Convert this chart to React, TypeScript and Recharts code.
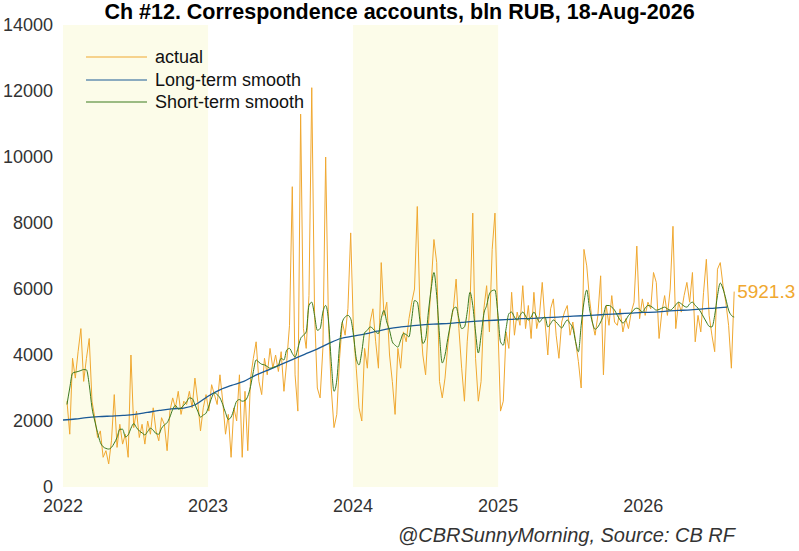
import { LineChart, Line, XAxis, YAxis, ReferenceArea, ReferenceDot, Legend } from "recharts";

const W = 799;
const H = 551;
const FONT = "'Liberation Sans', Arial, sans-serif";
const ORANGE = "#f0a830";
const BLUE = "#1b5a96";
const GREEN = "#3b7a1e";
const BAND = "#fcfce9";

const TITLE = "Ch #12. Correspondence accounts, bln RUB, 18-Aug-2026";
const FOOTER = "@CBRSunnyMorning, Source: CB RF";

// weekly observations, the last one is on LAST_DATE
const LAST_DATE = "2026-08-18";
const actual = [
  2600, 1600, 3900, 3300, 4100, 4800, 3200, 3900, 4500, 2600,
  2100, 1500, 1700, 900, 1100, 700, 1400, 2800, 1200, 1900,
  1300, 1600, 900, 4000, 1800, 2300, 1500, 1900, 1300, 2000,
  1600, 2400, 1700, 1400, 2100, 1900, 1100, 2300, 2700, 2400,
  2900, 2200, 2600, 2500, 2900, 2400, 3300, 2600, 1700, 2400,
  2800, 2300, 3100,
  2800, 2500, 3400, 2600, 1600, 2200, 900, 2400, 2000, 3400,
  900, 2900, 1100, 3300, 3900, 4400, 3200, 2800, 3900, 3400,
  4200, 3600, 4000, 3500, 4100, 2900, 3800, 4900, 9100, 3400,
  2300, 11300, 4800, 4200, 5800, 12100, 5300, 3000, 2700, 4200,
  10000, 5000, 3000, 1800, 2200, 3900, 5000, 4600, 5400, 7700,
  4700, 3600,
  2400, 2000, 4200, 3600, 5000, 5400, 4400, 3600, 6800, 5200,
  5600, 4000, 3200, 2200, 4200, 3600, 4700, 4400, 5100, 5600,
  6000, 8500, 5200, 4000, 3400, 4900, 6100, 7500, 6800, 3200,
  2700, 3300, 4300, 5000, 5400, 6300, 4800, 3600, 2600, 4400,
  5500, 8300, 3900, 2600, 3200, 5400, 6100, 4700, 7200, 8300,
  5100, 2300,
  2600, 4700, 4200, 5900, 4600, 5300, 4900, 6100, 4800, 5500,
  4500, 5900, 4800, 5200, 6200, 5000, 4000, 5400, 5700, 4600,
  3900, 5000, 5300, 5500, 4600, 5000, 4400, 3800, 3000, 7200,
  6700, 5700, 5000, 4600, 5200, 6400, 3400, 5500, 4900, 5800,
  5000, 4900, 5400, 4700, 5100, 4800, 5300, 5600, 7300, 5100,
  5700, 5200,
  5600, 5400, 6500, 6200, 4500, 5300, 5800, 5200, 6000, 7900,
  4800, 5600, 5300, 5800, 6200, 5600, 6500, 4400, 5200, 4700,
  5900, 6900, 5200, 4600, 4100, 6600, 6800, 6100, 5600, 4900,
  3600, 5921.3,
];

const shortSmooth = [
  2500, 3000, 3450, 3480, 3500, 3530, 3560, 3550, 3100, 2400,
  2000, 1650, 1350, 1220, 1170, 1150, 1200, 1330, 1500, 1750,
  1750, 1520, 1580, 1780, 1920, 1800, 1700, 1640, 1580, 1680,
  1780, 1720, 1620, 1600, 1780, 1880, 1950, 2120, 2350, 2470,
  2360, 2390, 2480, 2580, 2700, 2680, 2500, 2300, 2120, 2180,
  2240, 2450, 2700,
  2850, 2800, 2700, 2500, 2250, 2050, 2120, 2350, 2600, 2650,
  2600, 2620, 2750, 3050, 3500, 3850, 3780, 3720, 3700, 3650,
  3600, 3620, 3650, 3700, 3900, 3850, 4150, 4200, 4050, 3940,
  4200, 4500, 4600, 4700, 5500, 5600, 5200, 4750, 4800, 5300,
  5500, 5060, 3800, 2900, 3240, 4300, 5000, 5150, 5200, 5100,
  4600, 3900,
  3700, 4100, 4670, 4750, 4850, 4800, 4700, 4650, 5100, 5350,
  5000, 4750, 4400, 4300, 4240, 4450, 4650, 4620, 4550, 5100,
  5650, 5600, 5000, 4350, 4500, 5300, 6000, 6500, 5800, 4600,
  3760, 4000, 4500, 4950, 5400, 5450, 5100, 4800, 4850, 5300,
  5900, 5500, 4700, 4060, 4600, 5250, 5500, 5850, 5950, 5970,
  5300, 4400,
  4300, 4800, 5250, 5300, 5150, 5060, 5200, 5300, 5180, 5060,
  5150, 5300, 5150, 5000, 5100, 5150, 4850, 4950, 5060, 5000,
  4900, 4820, 4950, 5060, 4950, 4820, 4400, 4100, 4900, 5600,
  5970, 5400, 5000, 4780, 4850, 5000, 5200, 5500, 5500, 5450,
  5360, 5200, 5060, 4970, 5050, 5200, 5270, 5380, 5420, 5380,
  5300, 5420,
  5500, 5480, 5420, 5360, 5380, 5420, 5450, 5400, 5360, 5420,
  5520, 5600, 5550, 5480, 5450, 5550, 5600, 5500, 5420, 5300,
  5150, 5000, 4870, 4850, 5200, 5800, 6180, 6000, 5700, 5360,
  5200, 5150,
];

// first day of each month, Jan 2022 .. Aug 2026
const longSmooth = [
  2030, 2060, 2100, 2130, 2150, 2170, 2200, 2260, 2320, 2370, 2390, 2500,
  2750, 2950, 3080, 3200, 3390, 3540, 3700, 3860, 4020, 4170, 4350, 4500,
  4570, 4640, 4720, 4800, 4850, 4890, 4920, 4940, 4960, 4990, 5020, 5040,
  5060, 5080, 5100, 5110, 5130, 5150, 5170, 5190, 5210, 5230, 5250, 5270,
  5290, 5300, 5330, 5350, 5370, 5400, 5420, 5450,
];

const yearTicks = [2022, 2023, 2024, 2025, 2026];
const valueTicks = [0, 2000, 4000, 6000, 8000, 10000, 12000, 14000];
const shadedYears = [
  [2022, 2023],
  [2024, 2025],
];
const X_END = 2026.64;

const legendItems = [
  { label: "actual", color: ORANGE },
  { label: "Long-term smooth", color: BLUE },
  { label: "Short-term smooth", color: GREEN },
];

const DAY = 86400000;

function toYear(ms: number) {
  const y = new Date(ms).getUTCFullYear();
  const a = Date.UTC(y, 0, 1);
  const b = Date.UTC(y + 1, 0, 1);
  return y + (ms - a) / (b - a);
}

const lastMs = Date.parse(LAST_DATE + "T00:00:00Z");
const weekT = (i: number, n: number) => toYear(lastMs - (n - 1 - i) * 7 * DAY);

type Row = { t: number; actual?: number; short?: number; long?: number };
const rows: Row[] = [];
actual.forEach((v, i) => rows.push({ t: weekT(i, actual.length), actual: v }));
shortSmooth.forEach((v, i) => rows.push({ t: weekT(i, shortSmooth.length), short: v }));
longSmooth.forEach((v, i) => rows.push({ t: toYear(Date.UTC(2022, i, 1)), long: v }));
rows.sort((a, b) => a.t - b.t);

const lastT = weekT(actual.length - 1, actual.length);
const lastValue = actual[actual.length - 1];

function LegendBox() {
  return (
    <div style={{ fontFamily: FONT }}>
      {legendItems.map((it) => (
        <div key={it.label} style={{ display: "flex", alignItems: "center", height: 22.5 }}>
          <svg width={69} height={6}>
            <line x1={0} x2={61} y1={3} y2={3} stroke={it.color} strokeWidth={1.2} />
          </svg>
          <span style={{ fontSize: 18, color: "#111", lineHeight: "22px" }}>{it.label}</span>
        </div>
      ))}
    </div>
  );
}

export default function App() {
  return (
    <div style={{ position: "absolute", left: 0, top: 0, width: W, height: H, background: "#fff", fontFamily: FONT }}>
      <LineChart width={W} height={H} data={rows} margin={{ top: 25, right: 63, bottom: 0, left: 0 }}>
        {shadedYears.map(([a, b]) => (
          <ReferenceArea key={a} x1={a} x2={b} y1={0} y2={14000} fill={BAND} fillOpacity={1} stroke="none" />
        ))}
        <XAxis
          dataKey="t"
          type="number"
          domain={[2022, X_END]}
          ticks={yearTicks}
          interval={0}
          allowDataOverflow
          axisLine={false}
          tickLine={false}
          tickSize={0}
          tickMargin={12}
          height={64}
          tick={{ fill: "#333", fontSize: 18, fontFamily: FONT }}
        />
        <YAxis
          domain={[0, 14000]}
          ticks={valueTicks}
          interval={0}
          axisLine={false}
          tickLine={false}
          tickSize={0}
          tickMargin={10}
          width={63}
          tick={{ fill: "#333", fontSize: 18, fontFamily: FONT }}
        />
        <Legend
          content={() => <LegendBox />}
          layout="vertical"
          verticalAlign="middle"
          align="center"
          wrapperStyle={{ top: 46, left: 86, width: 260 }}
        />
        <Line dataKey="actual" stroke={ORANGE} strokeWidth={1} dot={false} connectNulls isAnimationActive={false} />
        <Line dataKey="long" type="monotone" stroke={BLUE} strokeWidth={1.3} dot={false} connectNulls isAnimationActive={false} />
        <Line dataKey="short" type="monotone" stroke={GREEN} strokeWidth={1} dot={false} connectNulls isAnimationActive={false} />
        <ReferenceDot
          x={lastT}
          y={lastValue}
          r={1}
          fill="none"
          stroke="none"
          label={{ value: lastValue.toFixed(1), position: "right", fill: ORANGE, fontSize: 19, offset: 2, fontFamily: FONT }}
        />
      </LineChart>
      <div
        style={{
          position: "absolute",
          top: 0,
          left: 0,
          width: W,
          textAlign: "center",
          fontWeight: 700,
          fontSize: 21.5,
          lineHeight: "24px",
          color: "#000",
        }}
      >
        {TITLE}
      </div>
      <div
        style={{
          position: "absolute",
          top: 523,
          right: 64,
          fontStyle: "italic",
          fontSize: 20,
          lineHeight: "24px",
          color: "#333",
        }}
      >
        {FOOTER}
      </div>
    </div>
  );
}
